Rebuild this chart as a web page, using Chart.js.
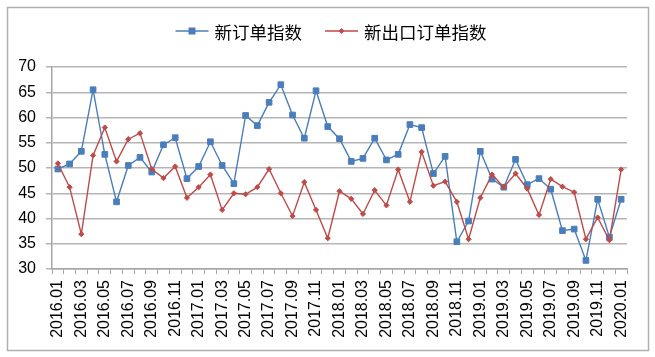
<!DOCTYPE html>
<html><head><meta charset="utf-8">
<script src="https://cdn.jsdelivr.net/npm/chart.js@4.4.1/dist/chart.umd.min.js"></script>
<style>html,body{margin:0;padding:0;background:#fff}#wrap{width:655px;height:357px;position:relative}</style>
</head><body><div id="wrap"><canvas id="c" width="655" height="357"></canvas></div>
<script>
const categories = [
  "2016.01","2016.02","2016.03","2016.04","2016.05","2016.06","2016.07","2016.08","2016.09","2016.10","2016.11","2016.12",
  "2017.01","2017.02","2017.03","2017.04","2017.05","2017.06","2017.07","2017.08","2017.09","2017.10","2017.11","2017.12",
  "2018.01","2018.02","2018.03","2018.04","2018.05","2018.06","2018.07","2018.08","2018.09","2018.10","2018.11","2018.12",
  "2019.01","2019.02","2019.03","2019.04","2019.05","2019.06","2019.07","2019.08","2019.09","2019.10","2019.11","2019.12",
  "2020.01"
];
const seriesNames = ["新订单指数", "新出口订单指数"];
const newOrders = [
  49.8,50.8,53.3,65.5,52.7,43.3,50.5,52.1,49.2,54.6,56.0,47.9,
  50.3,55.2,50.5,46.9,60.4,58.4,63.0,66.5,60.5,55.9,65.3,58.2,
  55.8,51.3,51.9,55.9,51.6,52.7,58.6,58.0,48.9,52.3,35.4,39.5,
  53.3,47.8,46.2,51.7,46.7,47.9,45.8,37.6,37.9,31.7,43.8,36.3,
  43.8
];
const exportOrders = [
  50.9,46.2,36.9,52.5,58.0,51.3,55.7,56.9,49.8,48.0,50.3,44.1,
  46.2,48.7,41.7,45.0,44.8,46.2,49.8,45.0,40.5,47.2,41.7,36.1,
  45.4,43.9,40.9,45.6,42.6,49.7,43.3,53.2,46.5,47.3,43.3,35.9,
  44.1,48.7,46.2,48.9,45.9,40.7,47.8,46.3,45.2,35.9,40.2,35.7,
  49.7
];
const yMin = 30, yMax = 70, yStep = 5;

const BLUE = '#4a7ebb', RED = '#be4b48', GRID = '#b5b5b5', AXIS = '#a6a6a6';
const tickFont = {family: '"Liberation Sans", Arial, sans-serif', size: 16};

const framePlugin = {
  id: 'frame',
  beforeDraw(chart) {
    const ctx = chart.ctx;
    ctx.save();
    ctx.fillStyle = '#fff';
    ctx.fillRect(0, 0, chart.width, chart.height);
    ctx.strokeStyle = '#b0b0b0';
    ctx.lineWidth = 1.5;
    ctx.strokeRect(7.5, 7.5, 641, 343);
    ctx.restore();
  },
  afterDraw(chart) {
    const ctx = chart.ctx;
    ctx.save();
    ctx.font = '17.5px "Noto Sans CJK SC", sans-serif';
    ctx.textBaseline = 'middle';
    const lineLen = 33, gap = 6, spacing = 23;
    const items = chart.data.datasets.map(ds => ({ds, w: ctx.measureText(ds.label).width}));
    let total = 0;
    items.forEach((it, i) => { total += lineLen + gap + it.w + (i ? spacing : 0); });
    let x = 331 - total / 2;
    const y = 31;
    items.forEach((it, i) => {
      if (i) x += spacing;
      const ds = it.ds;
      ctx.strokeStyle = ds.borderColor;
      ctx.lineWidth = 1.5;
      ctx.beginPath(); ctx.moveTo(x, y); ctx.lineTo(x + lineLen, y); ctx.stroke();
      ctx.fillStyle = ds.borderColor;
      const cx = x + lineLen / 2;
      if (ds.pointStyle === 'rect') {
        ctx.fillRect(cx - 3.5, y - 3.5, 7, 7);
      } else {
        ctx.beginPath();
        ctx.moveTo(cx - 3, y); ctx.lineTo(cx, y - 3); ctx.lineTo(cx + 3, y); ctx.lineTo(cx, y + 3);
        ctx.closePath(); ctx.fill();
      }
      x += lineLen + gap;
      ctx.fillStyle = '#000';
      ctx.fillText(ds.label, x, y + 1);
      x += it.w;
    });
    ctx.restore();
  }
};

new Chart(document.getElementById('c'), {
  type: 'line',
  data: {
    labels: categories,
    datasets: [
      {label: seriesNames[0], data: newOrders, borderColor: BLUE, backgroundColor: BLUE,
       borderWidth: 1.4, pointStyle: 'rect', pointRadius: 4, pointBorderWidth: 1,
       pointBackgroundColor: BLUE, pointBorderColor: BLUE, tension: 0, order: 1},
      {label: seriesNames[1], data: exportOrders, borderColor: RED, backgroundColor: RED,
       borderWidth: 1.4, pointStyle: 'rectRot', pointRadius: 2.6, pointBorderWidth: 1,
       pointBackgroundColor: RED, pointBorderColor: RED, tension: 0, order: 0}
    ]
  },
  options: {
    responsive: false,
    animation: false,
    devicePixelRatio: 1,
    layout: {padding: {top: 67, right: 28, left: 0, bottom: 0}},
    plugins: {legend: {display: false}, tooltip: {enabled: false}},
    scales: {
      x: {
        type: 'category',
        offset: true,
        afterFit(s) { s.height = 88; },
        grid: {offset: true, drawOnChartArea: false, drawTicks: true, tickLength: 5, color: AXIS, lineWidth: 1},
        border: {color: AXIS, width: 1.5},
        ticks: {autoSkip: false, maxRotation: 90, minRotation: 90, padding: 6, color: '#000', font: tickFont,
                callback: (v, i) => (i % 2 === 0 ? categories[i] : '')}
      },
      y: {
        min: yMin, max: yMax,
        afterFit(s) { s.width = 52; },
        grid: {color: GRID, lineWidth: 1.5, tickLength: 6, drawTicks: true},
        border: {color: AXIS, width: 1.5},
        ticks: {stepSize: yStep, padding: 10, color: '#000', font: tickFont}
      }
    }
  },
  plugins: [framePlugin]
});
</script>
</body></html>
